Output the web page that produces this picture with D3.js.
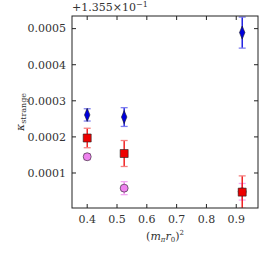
<!DOCTYPE html>
<html>
<head>
<meta charset="utf-8">
<script src="https://cdn.jsdelivr.net/npm/d3@7"></script>
<style>
  body { margin: 0; background: #fff; }
  svg { font-family: "DejaVu Serif", "Liberation Serif", serif; }
</style>
</head>
<body>
<div id="graphicContainer"></div>
<script>
// offset of the y axis is 1.355e-1, values below are after that offset
var xTicks = [0.4, 0.5, 0.6, 0.7, 0.8, 0.9];
var yTicks = [0.0001, 0.0002, 0.0003, 0.0004, 0.0005];

var mpiSq = [0.4, 0.524, 0.92];

var blueVals = [0.000261, 0.000255, 0.000489];
var blueErr = [0.000017, 0.000026, 0.000043];

var violetVals = [0.000145, 0.000058, 0.000048];
var violetErr = [0.000008, 0.000018, 0.000023];

var redVals = [0.000197, 0.000154, 0.000047];
var redErr = [0.000027, 0.000036, 0.000045];

var target = "#graphicContainer";
var width = 274, height = 257;
var margin = {top: 16, right: 16, bottom: 49, left: 72};
var w = width - margin.left - margin.right,
    h = height - margin.top - margin.bottom;

var svg = d3.select(target).append("svg")
    .attr("width", width)
    .attr("height", height);

var x = d3.scaleLinear().domain([0.349, 0.973]).range([0, w]);
var y = d3.scaleLinear().domain([0.000003, 0.000535]).range([h, 0]);

var g = svg.append("g").attr("transform", "translate(" + margin.left + "," + margin.top + ")");

svg.append("defs").append("clipPath").attr("id", "clip")
    .append("rect").attr("width", w).attr("height", h);

var plot = g.append("g").attr("clip-path", "url(#clip)");

function series(vals, errs, color, capColor, shape, size, sx) {
    var s = plot.append("g");
    vals.forEach(function(v, i) {
        var cx = x(mpiSq[i]);
        s.append("line")
            .attr("x1", cx).attr("x2", cx)
            .attr("y1", y(v - errs[i])).attr("y2", y(v + errs[i]))
            .attr("stroke", color).attr("stroke-width", 1.3);
        [v - errs[i], v + errs[i]].forEach(function(e) {
            s.append("line")
                .attr("x1", cx - 3.5).attr("x2", cx + 3.5)
                .attr("y1", y(e)).attr("y2", y(e))
                .attr("stroke", capColor).attr("stroke-width", 1.3);
        });
        s.append("path")
            .attr("d", d3.symbol().type(shape).size(size)())
            .attr("transform", "translate(" + cx + "," + y(v) + ") scale(" + sx + ",1)")
            .attr("fill", color)
            .attr("stroke", "#222")
            .attr("stroke-width", 0.6)
            .attr("vector-effect", "non-scaling-stroke");
    });
}

series(blueVals, blueErr, "#0000dd", "#7f7ff0", d3.symbolDiamond, 50, 0.72);
series(violetVals, violetErr, "#ee82ee", "#f2a8f2", d3.symbolCircle, 50, 1);
series(redVals, redErr, "#ee0000", "#f58080", d3.symbolSquare, 64, 1);

// frame
g.append("rect")
    .attr("width", w).attr("height", h)
    .attr("fill", "none").attr("stroke", "#222").attr("stroke-width", 1);

var fmt = d3.format(".4f");
var tickLen = 4;

// bottom + top ticks
xTicks.forEach(function(t) {
    g.append("line").attr("x1", x(t)).attr("x2", x(t)).attr("y1", h).attr("y2", h - tickLen)
        .attr("stroke", "#222");
    g.append("line").attr("x1", x(t)).attr("x2", x(t)).attr("y1", 0).attr("y2", tickLen)
        .attr("stroke", "#222");
    g.append("text").attr("x", x(t)).attr("y", h + 15)
        .attr("text-anchor", "middle").attr("font-size", 11).attr("fill", "#333")
        .text(d3.format(".1f")(t));
});

// left + right ticks
yTicks.forEach(function(t) {
    g.append("line").attr("x1", 0).attr("x2", tickLen).attr("y1", y(t)).attr("y2", y(t))
        .attr("stroke", "#222");
    g.append("line").attr("x1", w).attr("x2", w - tickLen).attr("y1", y(t)).attr("y2", y(t))
        .attr("stroke", "#222");
    g.append("text").attr("x", -6).attr("y", y(t)).attr("dy", "0.35em")
        .attr("text-anchor", "end").attr("font-size", 11).attr("fill", "#333")
        .text(fmt(t));
});

// offset label
var off = svg.append("text").attr("x", margin.left).attr("y", 11)
    .attr("font-size", 11).attr("fill", "#333");
off.append("tspan").text("+1.355\u00d710");
off.append("tspan").attr("dy", -4).attr("font-size", 8).text("\u22121");

// x label
var xl = svg.append("text").attr("x", margin.left + w / 2).attr("y", 240)
    .attr("text-anchor", "middle").attr("font-size", 11).attr("fill", "#333");
xl.append("tspan").text("(");
xl.append("tspan").attr("font-style", "italic").text("m");
xl.append("tspan").attr("font-size", 7).attr("dy", 2).attr("font-style", "italic").text("\u03c0");
xl.append("tspan").attr("dy", -2).attr("font-style", "italic").text("r");
xl.append("tspan").attr("font-size", 7).attr("dy", 2).text("0");
xl.append("tspan").attr("dy", -2).text(")");
xl.append("tspan").attr("font-size", 7).attr("dy", -5).text("2");

// y label
var yl = svg.append("text")
    .attr("transform", "translate(24," + 112 + ") rotate(-90)")
    .attr("text-anchor", "middle").attr("font-size", 11).attr("fill", "#333");
yl.append("tspan").attr("font-style", "italic").text("\u03ba");
yl.append("tspan").attr("font-size", 8).attr("dy", 2).text("strange");
</script>
</body>
</html>
